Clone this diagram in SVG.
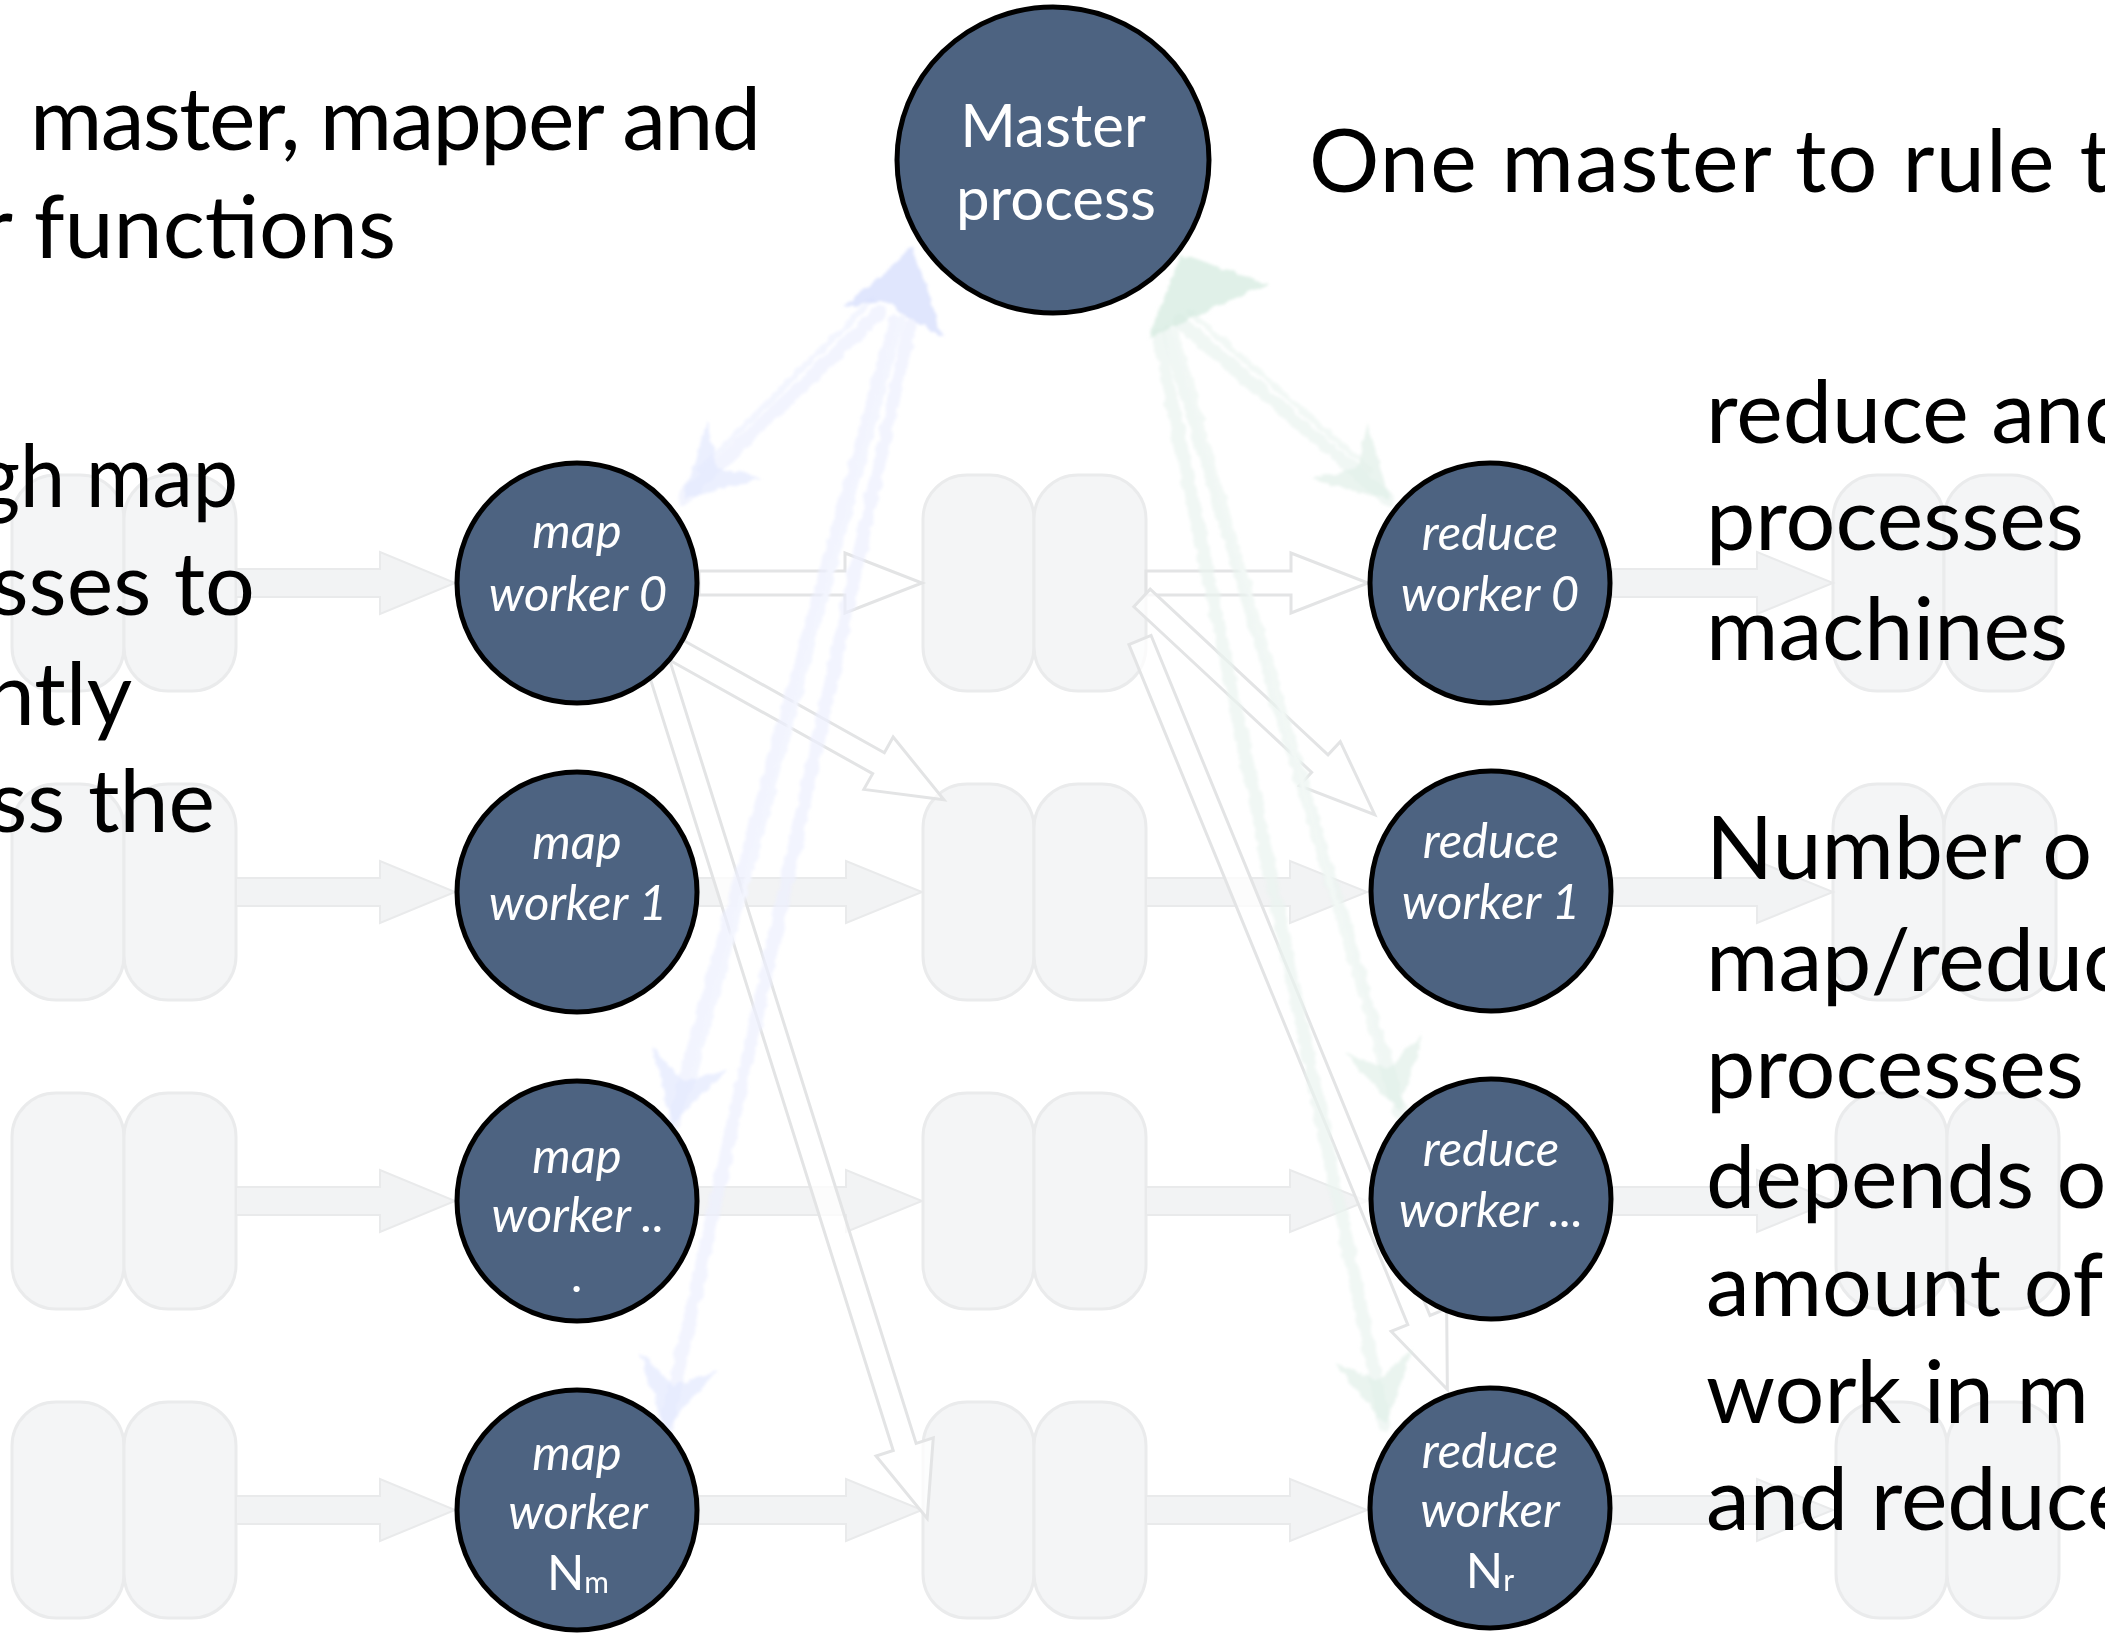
<svg xmlns="http://www.w3.org/2000/svg" width="2105" height="1639" viewBox="0 0 2105 1639">
<style>
.pill{fill:#f4f5f6;stroke:#eaebec;stroke-width:3}
.farrow{fill:#f2f3f4;stroke:#e9eaeb;stroke-width:2}
.oarrow{fill:#ffffff;fill-opacity:0.75;stroke:#e3e4e5;stroke-width:3;stroke-linejoin:miter}
.node{fill:#4d6381;stroke:#000;stroke-width:5}
.body{font-family:Lato,"Liberation Sans",sans-serif;font-size:88px;fill:#000}
.lbl{font-family:Lato,"Liberation Sans",sans-serif;font-style:italic;font-size:49px;fill:#fff;text-anchor:middle}
.up{font-style:normal}
.mt{font-family:Lato,"Liberation Sans",sans-serif;font-size:60px;fill:#fff;text-anchor:middle}
.bl{fill:none;stroke:#eceffe;stroke-width:13;stroke-linecap:round;opacity:0.7}
.bl2{fill:none;stroke:#f3f5fe;stroke-width:6;stroke-linecap:round}
.bh{fill:#e0e6fd;opacity:0.65}
.bhm{fill:#d3dbfc;opacity:0.7}
.gl{fill:none;stroke:#eaf4ef;stroke-width:13;stroke-linecap:round;opacity:0.7}
.gl2{fill:none;stroke:#f2f8f5;stroke-width:6;stroke-linecap:round}
.gh{fill:#deeee6;opacity:0.65}
.ghm{fill:#d3e9de;opacity:0.7}
</style>
<defs>
<filter id="sketch" filterUnits="userSpaceOnUse" x="0" y="0" width="2105" height="1639">
<feTurbulence type="fractalNoise" baseFrequency="0.09" numOctaves="2" seed="4" result="n"/>
<feDisplacementMap in="SourceGraphic" in2="n" scale="8" xChannelSelector="R" yChannelSelector="G" result="d"/>
<feGaussianBlur in="d" stdDeviation="1.4"/>
</filter>
</defs>
<rect x="0" y="0" width="2105" height="1639" fill="#ffffff"/>

<g id="machines">
<rect class="pill" x="12" y="475" width="112" height="216" rx="44"/>
<rect class="pill" x="124" y="475" width="112" height="216" rx="44"/>
<rect class="pill" x="12" y="784" width="112" height="216" rx="44"/>
<rect class="pill" x="124" y="784" width="112" height="216" rx="44"/>
<rect class="pill" x="12" y="1093" width="112" height="216" rx="44"/>
<rect class="pill" x="124" y="1093" width="112" height="216" rx="44"/>
<rect class="pill" x="12" y="1402" width="112" height="216" rx="44"/>
<rect class="pill" x="124" y="1402" width="112" height="216" rx="44"/>
<rect class="pill" x="923" y="475" width="111" height="216" rx="44"/>
<rect class="pill" x="1034" y="475" width="112" height="216" rx="44"/>
<rect class="pill" x="923" y="784" width="111" height="216" rx="44"/>
<rect class="pill" x="1034" y="784" width="112" height="216" rx="44"/>
<rect class="pill" x="923" y="1093" width="111" height="216" rx="44"/>
<rect class="pill" x="1034" y="1093" width="112" height="216" rx="44"/>
<rect class="pill" x="923" y="1402" width="111" height="216" rx="44"/>
<rect class="pill" x="1034" y="1402" width="112" height="216" rx="44"/>
<rect class="pill" x="1833" y="475" width="111" height="216" rx="44"/>
<rect class="pill" x="1944" y="475" width="112" height="216" rx="44"/>
<rect class="pill" x="1833" y="784" width="111" height="216" rx="44"/>
<rect class="pill" x="1944" y="784" width="112" height="216" rx="44"/>
<rect class="pill" x="1836" y="1093" width="111" height="216" rx="44"/>
<rect class="pill" x="1947" y="1093" width="112" height="216" rx="44"/>
<rect class="pill" x="1836" y="1402" width="111" height="216" rx="44"/>
<rect class="pill" x="1947" y="1402" width="112" height="216" rx="44"/>
</g>

<g id="connectors">
<path class="farrow" d="M236,569 H380 V552 L455,583 L380,614 V597 H236 Z"/>
<path class="farrow" d="M236,878 H380 V861 L455,892 L380,923 V906 H236 Z"/>
<path class="farrow" d="M236,1187 H380 V1170 L455,1201 L380,1232 V1215 H236 Z"/>
<path class="farrow" d="M236,1496 H380 V1479 L455,1510 L380,1541 V1524 H236 Z"/>
<path class="farrow" d="M699,878 H846 V861 L922,892 L846,923 V906 H699 Z"/>
<path class="farrow" d="M699,1187 H846 V1170 L922,1201 L846,1232 V1215 H699 Z"/>
<path class="farrow" d="M699,1496 H846 V1479 L922,1510 L846,1541 V1524 H699 Z"/>
<path class="farrow" d="M1146,878 H1290 V861 L1367,892 L1290,923 V906 H1146 Z"/>
<path class="farrow" d="M1146,1187 H1290 V1170 L1367,1201 L1290,1232 V1215 H1146 Z"/>
<path class="farrow" d="M1146,1496 H1290 V1479 L1367,1510 L1290,1541 V1524 H1146 Z"/>
<path class="farrow" d="M1612,569 H1757 V552 L1833,583 L1757,614 V597 H1612 Z"/>
<path class="farrow" d="M1612,878 H1757 V861 L1833,892 L1757,923 V906 H1612 Z"/>
<path class="farrow" d="M1612,1187 H1757 V1170 L1833,1201 L1757,1232 V1215 H1612 Z"/>
<path class="farrow" d="M1612,1496 H1757 V1479 L1833,1510 L1757,1541 V1524 H1612 Z"/>
<path class="oarrow" transform="translate(699,583)" d="M0,-12 H146 V-30 L223,0 L146,30 V12 H0 Z"/>
<path class="oarrow" transform="translate(676,650) rotate(29.2)" d="M0,-12 H232 V-30 L307,0 L232,30 V12 H0 Z"/>
<path class="oarrow" transform="translate(657,660) rotate(72.53)" d="M0,-12 H825 V-30 L900,0 L825,30 V12 H0 Z"/>
<path class="oarrow" transform="translate(1146,583)" d="M0,-12 H145 V-30 L222,0 L145,30 V12 H0 Z"/>
<path class="oarrow" transform="translate(1142,598) rotate(42.96)" d="M0,-12 H243 V-30 L318,0 L243,30 V12 H0 Z"/>
<path class="oarrow" transform="translate(1140,640) rotate(67.7)" d="M0,-12 H735 V-30 L810,0 L735,30 V12 H0 Z"/>
<g filter="url(#sketch)">
<path class="bl" d="M880,312 L684,498"/>
<path class="bl" d="M895,322 L672,1125"/>
<path class="bl" d="M910,325 L665,1430"/>
<path class="bl2" d="M872,300 L700,470"/>
<path class="bl2" d="M902,318 L690,1090"/>
<path class="bhm" d="M912,248 L845,306 L882,302 L944,338 Z"/>
<path class="bh" d="M684,498 L762,478 L716,467 L707,421 Z"/>
<path class="bh" d="M672,1125 L729,1068 L684,1082 L652,1047 Z"/>
<path class="bh" d="M665,1430 L718,1369 L674,1386 L640,1353 Z"/>
<path class="gl" d="M1180,322 L1389,500"/>
<path class="gl" d="M1168,332 L1400,1112"/>
<path class="gl" d="M1158,335 L1385,1425"/>
<path class="gl2" d="M1190,312 L1370,470"/>
<path class="gl2" d="M1175,330 L1380,1060"/>
<path class="ghm" d="M1181,255 L1148,338 L1190,318 L1268,284 Z"/>
<path class="gh" d="M1389,500 L1368,422 L1357,468 L1311,479 Z"/>
<path class="gh" d="M1400,1112 L1422,1034 L1389,1068 L1345,1054 Z"/>
<path class="gh" d="M1385,1425 L1413,1349 L1378,1381 L1334,1363 Z"/>
</g>
</g>

<g id="master">
<ellipse class="node" cx="1053" cy="160" rx="156" ry="153"/>
<text class="mt" x="1053" y="147">Master</text>
<text class="mt" x="1056" y="220">process</text>
</g>

<g id="map-worker-0">
<circle class="node" cx="577" cy="583" r="120"/>
<text class="lbl" x="577" y="548">map</text>
<text class="lbl" x="578" y="611">worker 0</text>
</g>
<g id="map-worker-1">
<circle class="node" cx="577" cy="892" r="120"/>
<text class="lbl" x="577" y="859">map</text>
<text class="lbl" x="578" y="920">worker 1</text>
</g>
<g id="map-worker-dots">
<circle class="node" cx="577" cy="1201" r="120"/>
<text class="lbl" x="577" y="1173">map</text>
<text class="lbl" x="578" y="1232">worker ..</text>
<text class="lbl" x="578" y="1292">.</text>
</g>
<g id="map-worker-nm">
<circle class="node" cx="577" cy="1510" r="120"/>
<text class="lbl" x="577" y="1470">map</text>
<text class="lbl" x="578" y="1529">worker</text>
<text class="lbl up" x="578" y="1590">N<tspan font-size="30" dy="3">m</tspan></text>
</g>

<g id="reduce-worker-0">
<circle class="node" cx="1490" cy="583" r="120"/>
<text class="lbl" x="1490" y="550">reduce</text>
<text class="lbl" x="1490" y="611">worker 0</text>
</g>
<g id="reduce-worker-1">
<circle class="node" cx="1491" cy="891" r="120"/>
<text class="lbl" x="1491" y="858">reduce</text>
<text class="lbl" x="1491" y="919">worker 1</text>
</g>
<g id="reduce-worker-dots">
<circle class="node" cx="1491" cy="1199" r="120"/>
<text class="lbl" x="1491" y="1166">reduce</text>
<text class="lbl" x="1491" y="1227">worker ...</text>
</g>
<g id="reduce-worker-nr">
<circle class="node" cx="1490" cy="1508" r="120"/>
<text class="lbl" x="1490" y="1468">reduce</text>
<text class="lbl" x="1490" y="1527">worker</text>
<text class="lbl up" x="1490" y="1588">N<tspan font-size="30" dy="3">r</tspan></text>
</g>

<g id="text-left">
<text class="body" x="30" y="150" textLength="731">master, mapper and</text>
<text class="body" x="396" y="258" text-anchor="end">r functions</text>
<text class="body" x="238" y="507" text-anchor="end" textLength="260" lengthAdjust="spacingAndGlyphs">gh map</text>
<text class="body" x="255" y="615" text-anchor="end">sses to</text>
<text class="body" x="132" y="725" text-anchor="end">ntly</text>
<text class="body" x="215" y="832" text-anchor="end">ss the</text>
</g>
<g id="text-right">
<text class="body" x="1309" y="192" textLength="802">One master to rule t</text>
<text class="body" x="1706" y="443">reduce and</text>
<text class="body" x="1706" y="550">processes</text>
<text class="body" x="1706" y="660">machines</text>
<text class="body" x="1706" y="879">Number o</text>
<text class="body" x="1706" y="991">map/reduc</text>
<text class="body" x="1706" y="1098">processes</text>
<text class="body" x="1706" y="1208">depends o</text>
<text class="body" x="1706" y="1316">amount of</text>
<text class="body" x="1706" y="1423">work in m</text>
<text class="body" x="1706" y="1530">and reduce</text>
</g>
</svg>
